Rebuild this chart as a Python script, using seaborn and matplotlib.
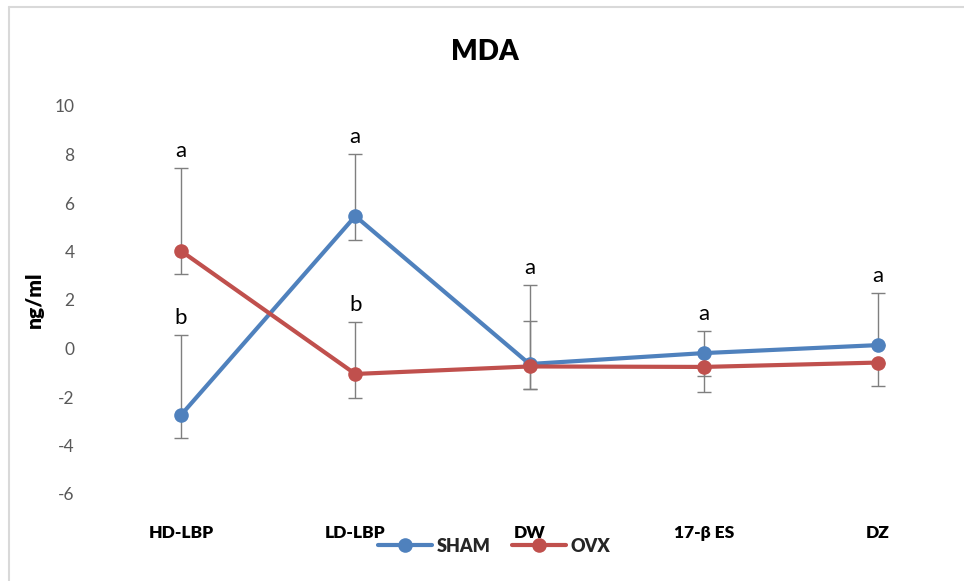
import numpy as np
import pandas as pd
import matplotlib
matplotlib.use("Agg")
import matplotlib.pyplot as plt
from matplotlib.lines import Line2D
import seaborn as sns

# Treatment groups and mean MDA levels (ng/ml)
groups = ["HD-LBP", "LD-LBP", "DW", "17-β ES", "DZ"]
sham = [-2.74, 5.46, -0.64, -0.19, 0.14]
ovx = [4.02, -1.05, -0.74, -0.76, -0.58]

# Asymmetric error bar extents (plus / minus)
sham_err_plus = [3.30, 2.56, 3.26, 0.91, 2.14]
sham_err_minus = [0.95, 0.99, 1.04, 0.94, 0.00]
ovx_err_plus = [3.42, 2.14, 1.87, 0.00, 0.00]
ovx_err_minus = [0.95, 0.99, 0.94, 1.02, 0.97]

# Significance letters: (group index, series, letter)
sig_groups = [0, 0, 1, 1, 2, 3, 4]
sig_series = ["OVX", "SHAM", "SHAM", "OVX", "SHAM", "SHAM", "SHAM"]
sig_letters = ["a", "b", "a", "b", "a", "a", "a"]

sns.set_theme(style="white")
plt.rcParams["font.family"] = ["Lato", "DejaVu Sans"]
plt.rcParams["axes.unicode_minus"] = False

blue = "#4F81BD"
red = "#C0504D"
heavy = "heavy"

df = pd.DataFrame({
    "group": groups * 2,
    "x": list(range(len(groups))) * 2,
    "value": sham + ovx,
    "series": ["SHAM"] * len(groups) + ["OVX"] * len(groups),
})

fig = plt.figure(figsize=(9.64, 5.81), dpi=100)
ax = fig.add_axes([94 / 964, 1 - 494 / 581, (965 - 94) / 964, (494 - 106) / 581])

x = np.arange(len(groups))
ax.errorbar(x, sham, yerr=[sham_err_minus, sham_err_plus], fmt="none",
            ecolor="#7f7f7f", elinewidth=1.0, capsize=5, capthick=1.0, zorder=1)
ax.errorbar(x, ovx, yerr=[ovx_err_minus, ovx_err_plus], fmt="none",
            ecolor="#7f7f7f", elinewidth=1.0, capsize=5, capthick=1.0, zorder=1)

sns.lineplot(data=df, x="x", y="value", hue="series", hue_order=["SHAM", "OVX"],
             palette={"SHAM": blue, "OVX": red}, marker="o", markersize=10.5,
             markeredgewidth=0, linewidth=3.0, ax=ax, legend=False, zorder=3)

# Letters above the upper error bar of the tagged series
tops = {
    "SHAM": [v + e for v, e in zip(sham, sham_err_plus)],
    "OVX": [v + e for v, e in zip(ovx, ovx_err_plus)],
}
for gi, s, letter in zip(sig_groups, sig_series, sig_letters):
    ax.annotate(letter, (gi, tops[s][gi]), xytext=(0, 5), textcoords="offset points",
                ha="center", va="bottom", fontsize=16, color="black")

ax.set_xlim(-0.5, len(groups) - 0.5)
ax.set_ylim(-6, 10)
ax.set_yticks(np.arange(-6, 11, 2))
ax.set_xticks(x)
ax.set_xticklabels(groups, fontsize=12.5, fontweight=heavy, color="black")
ax.tick_params(axis="y", labelsize=12.5, labelcolor="#595959", length=0, pad=14)
ax.tick_params(axis="x", length=0, pad=22)
ax.set_xlabel("")
ax.set_ylabel("ng/ml", fontsize=15, fontweight=heavy, color="black", labelpad=8)
for sp in ax.spines.values():
    sp.set_visible(False)
ax.grid(False)

fig.text(485 / 964, 1 - 52 / 581, "MDA", ha="center", va="center",
         fontsize=20, fontweight=heavy, color="black")

handles = [
    Line2D([], [], color=blue, marker="o", markersize=10.5, linewidth=3.0, markeredgewidth=0),
    Line2D([], [], color=red, marker="o", markersize=10.5, linewidth=3.0, markeredgewidth=0),
]
fig.legend(handles, ["SHAM", "OVX"], loc="center", bbox_to_anchor=(494 / 964, 1 - 546 / 581),
           ncol=2, frameon=False, handlelength=3.0, handletextpad=0.25, columnspacing=1.2,
           prop={"size": 13, "weight": heavy})

# Chart frame
frame_kw = dict(color="#d9d9d9", linewidth=1.5, transform=fig.transFigure)
fig.add_artist(Line2D([8.5 / 964, 8.5 / 964], [0, 1 - 6.5 / 581], **frame_kw))
fig.add_artist(Line2D([8.5 / 964, 1], [1 - 6.5 / 581, 1 - 6.5 / 581], **frame_kw))

fig.savefig("out.png", dpi=100, facecolor="white")
